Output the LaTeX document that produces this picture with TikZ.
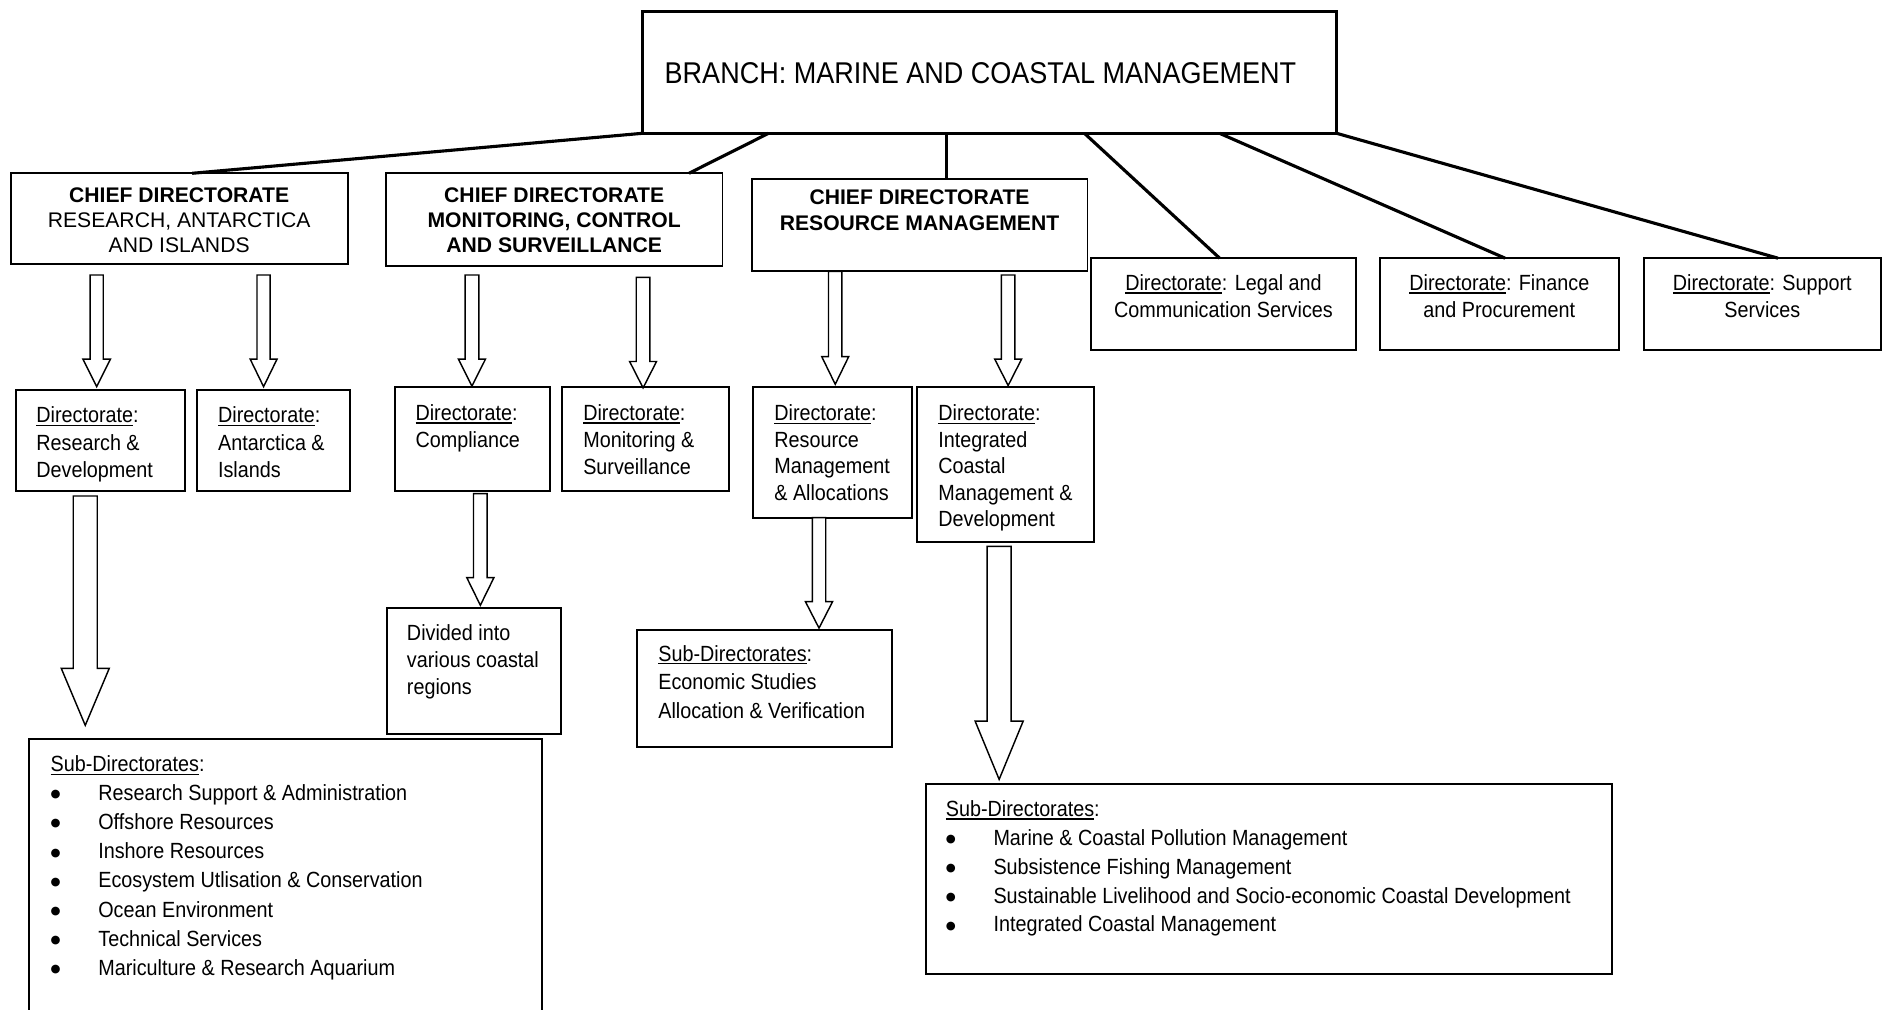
\documentclass[tikz,border=0pt]{standalone}
\usepackage{fontspec}
\setmainfont{Liberation Sans}
\newfontfamily\nf[FakeStretch=0.9]{Liberation Sans}
\newfontfamily\djv{DejaVu Sans}
\newcommand\ulx[1]{\setbox0\hbox{#1}\rlap{\rule[-2.6pt]{\wd0}{1.1pt}}#1}
\newcommand\LL[1]{\vtop{\halign{##\hfil\cr#1\crcr}}}
\newcommand\CL[1]{\vtop{\halign{\hfil##\hfil\cr#1\crcr}}}
\newcommand\bul{\makebox[39.7pt][l]{\kern0pt{\djv\fontsize{9.5pt}{0pt}\selectfont\raisebox{2.4pt}{●}}}}
\newcommand\barrow[6]{\draw[barrowst] ({#1-#5},#2) -- ({#1-#5},#3) -- ({#1-#6},#3) -- (#1,#4) -- ({#1+#6},#3) -- ({#1+#5},#3) -- ({#1+#5},#2) -- cycle;}
\begin{document}
\begin{tikzpicture}[x=1pt,y=-1pt,
  box/.style={draw=black, line width=#1, anchor=north west, inner sep=0pt, outer sep=0pt},
  box/.default=1.4pt,
  conn/.style={draw=black, line width=2.6pt},
  barrowst/.style={draw=black, fill=white, line width=1.2pt, line join=miter},
  ntxt/.style={inner sep=0pt, outer sep=0pt, font=\nf\fontsize{18.3pt}{#1}\selectfont},
  ctxt/.style={inner sep=0pt, outer sep=0pt, font=\fontsize{17.6pt}{#1}\selectfont}]
\fill[white] (0,0) rectangle (1568,841);
\useasboundingbox (0,0) rectangle (1568,841);

% ---------- boxes ----------
\node[box=3pt, minimum width=578pt, minimum height=101.5pt] (branch) at (535,9.5) {};
\node[box, minimum width=280.5pt, minimum height=75.8pt] (cd1) at (9,144.3) {};
\node[box, minimum width=280.4pt, minimum height=77pt] (cd2) at (321.3,144.3) {};
\node[box, minimum width=279.5pt, minimum height=76.7pt] (cd3) at (626,149) {};
\node[box=1.6pt, minimum width=220.4pt, minimum height=76.4pt] (legal) at (908.6,215) {};
\node[box=1.6pt, minimum width=199.4pt, minimum height=76.4pt] (fin) at (1148.8,215) {};
\node[box=1.6pt, minimum width=197.9pt, minimum height=76.4pt] (sup) at (1368.6,215) {};

\node[box=1.6pt, minimum width=140.5pt, minimum height=84.1pt] (rd) at (13.3,324.8) {};
\node[box=1.6pt, minimum width=127.1pt, minimum height=84.1pt] (ai) at (164.3,324.8) {};
\node[box=1.6pt, minimum width=129pt, minimum height=86.9pt] (comp) at (329,322) {};
\node[box=1.6pt, minimum width=138.5pt, minimum height=87pt] (ms) at (468.2,322) {};
\node[box=1.6pt, minimum width=131.9pt, minimum height=109.6pt] (rma) at (627.3,322) {};
\node[box=1.6pt, minimum width=147.1pt, minimum height=129.6pt] (icmd) at (763.9,322) {};

\node[box=1.5pt, minimum width=145.3pt, minimum height=104.9pt] (div) at (322,506.6) {};
\node[box=1.5pt, minimum width=211.8pt, minimum height=97.7pt] (eco) at (530.7,524.6) {};
\node[box=1.5pt, minimum width=427.6pt, minimum height=240pt] (subl) at (24,615.6) {};
\node[box=1.5pt, minimum width=571pt, minimum height=158.3pt] (subr) at (771,653) {};

% ---------- texts ----------
\node[inner sep=0pt, anchor=base west, font=\nf\fontsize{25pt}{30pt}\selectfont] (brancht) at (553.3,69.4) {BRANCH: MARINE AND COASTAL MANAGEMENT};

\node[ctxt=20.7pt, anchor=base] (cd1t) at (149.2,168.8) {\CL{\bfseries CHIEF DIRECTORATE\cr RESEARCH, ANTARCTICA\cr AND ISLANDS}};
\node[ctxt=20.7pt, anchor=base] (cd2t) at (461.5,168.8) {\CL{\bfseries CHIEF DIRECTORATE\cr \bfseries MONITORING, CONTROL\cr \bfseries AND SURVEILLANCE}};
\node[ctxt=21.6pt, anchor=base] (cd3t) at (765.7,170) {\CL{\bfseries CHIEF DIRECTORATE\cr \bfseries RESOURCE MANAGEMENT}};

\node[ntxt=22.7pt, anchor=base] (legalt) at (1018.8,242) {\CL{\ulx{Directorate}: Legal and\cr Communication Services}};
\node[ntxt=22.7pt, anchor=base] (fint) at (1248.5,242) {\CL{\ulx{Directorate}: Finance\cr and Procurement}};
\node[ntxt=22.7pt, anchor=base] (supt) at (1467.5,242) {\CL{\ulx{Directorate}: Support\cr Services}};

\node[ntxt=22.8pt, anchor=base west] (rdt) at (30.3,352) {\LL{\ulx{Directorate}:\cr Research \&\cr Development}};
\node[ntxt=22.8pt, anchor=base west] (ait) at (181.6,352) {\LL{\ulx{Directorate}:\cr Antarctica \&\cr Islands}};
\node[ntxt=22pt, anchor=base west] (compt) at (346,350.3) {\LL{\ulx{Directorate}:\cr Compliance}};
\node[ntxt=22.5pt, anchor=base west] (mst) at (485.7,350.3) {\LL{\ulx{Directorate}:\cr Monitoring \&\cr Surveillance}};
\node[ntxt=22pt, anchor=base west] (rmat) at (644.8,350.5) {\LL{\ulx{Directorate}:\cr Resource\cr Management\cr \& Allocations}};
\node[ntxt=22pt, anchor=base west] (icmdt) at (781.4,350.5) {\LL{\ulx{Directorate}:\cr Integrated\cr Coastal\cr Management \&\cr Development}};

\node[ntxt=22.6pt, anchor=base west] (divt) at (338.9,533.5) {\LL{Divided into\cr various coastal\cr regions}};
\node[ntxt=23.9pt, anchor=base west] (ecot) at (548.2,550.5) {\LL{\ulx{Sub-Directorates}:\cr Economic Studies\cr Allocation \& Verification}};

\node[ntxt=24.2pt, anchor=base west] (sublt) at (42.2,642.6) {\LL{\ulx{Sub-Directorates}:\cr
\bul Research Support \& Administration\cr
\bul Offshore Resources\cr
\bul Inshore Resources\cr
\bul Ecosystem Utlisation \& Conservation\cr
\bul Ocean Environment\cr
\bul Technical Services\cr
\bul Mariculture \& Research Aquarium}};

\node[ntxt=24pt, anchor=base west] (subrt) at (787.6,680) {\LL{\ulx{Sub-Directorates}:\cr
\bul Marine \& Coastal Pollution Management\cr
\bul Subsistence Fishing Management\cr
\bul Sustainable Livelihood and Socio-economic Coastal Development\cr
\bul Integrated Coastal Management}};

% ---------- connectors ----------
\draw[conn] (branch.south west) -- ([xshift=151pt]cd1.north west);
\draw[conn] ([xshift=105pt]branch.south west) -- ([xshift=-28pt]cd2.north east);
\draw[conn] ([xshift=253pt]branch.south west) -- ([xshift=162pt]cd3.north west);
\draw[conn] ([xshift=368pt]branch.south west) -- ([xshift=107pt]legal.north west);
\draw[conn] ([xshift=480.5pt]branch.south west) -- ([xshift=104.5pt]fin.north west);
\draw[conn] (branch.south east) -- ([xshift=112pt]sup.north west);

% ---------- block arrows ----------
\barrow{80.5}{229}{299}{322}{5.5}{11.5}
\barrow{219.5}{229}{299}{322}{5.5}{11.2}
\barrow{393}{229}{299}{321.5}{5.7}{11.3}
\barrow{535.5}{231}{301}{323}{5.7}{11.2}
\barrow{695.5}{226}{297}{320}{5.6}{11.2}
\barrow{839.5}{229}{299}{321}{5.6}{11.2}
\barrow{71}{413}{556.5}{604}{10}{20}
\barrow{400}{411}{481}{504}{5.7}{11.3}
\barrow{682}{431}{501}{523}{5.6}{11.3}
\barrow{832}{455}{600.5}{649}{10}{20}
\end{tikzpicture}
\end{document}
